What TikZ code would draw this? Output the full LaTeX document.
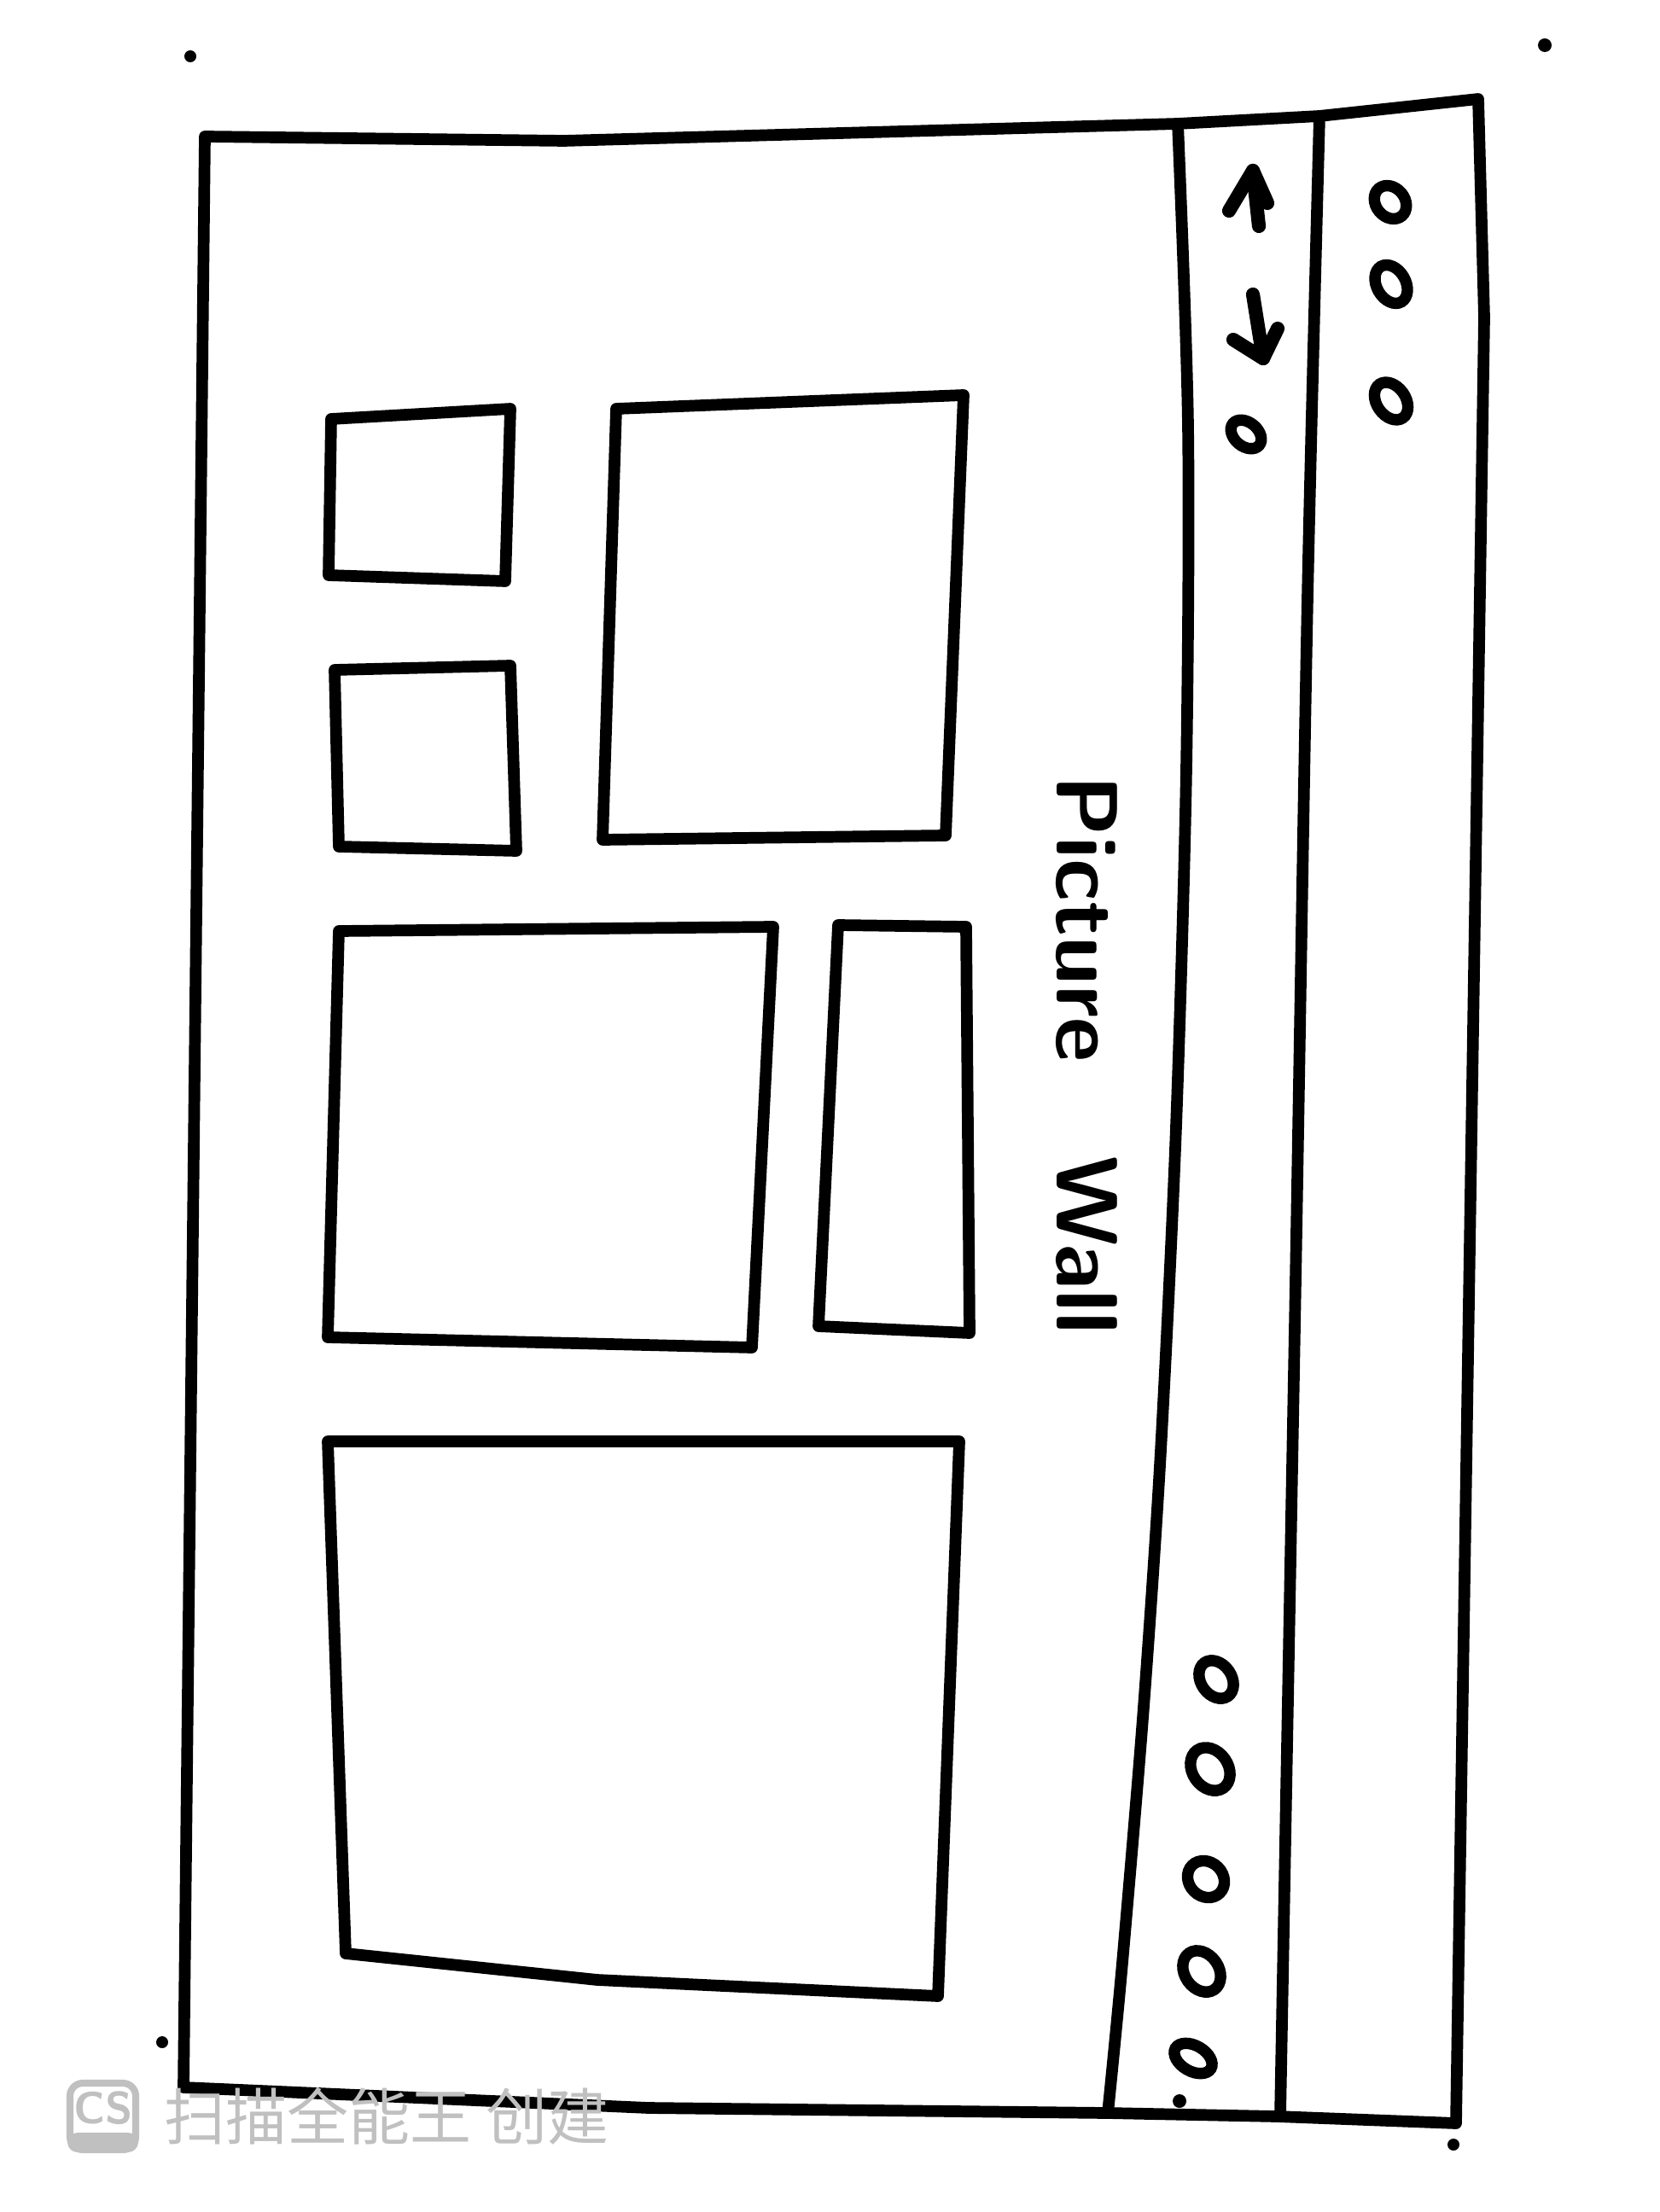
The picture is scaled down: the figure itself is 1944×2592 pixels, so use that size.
\documentclass[tikz,border=0pt]{standalone}
\usepackage{fontspec}
\usepackage{tikz}
\usetikzlibrary{calc}
\newfontfamily\cjkfont{Noto Sans CJK SC}
\definecolor{markgray}{RGB}{192,192,192}
\tikzset{
  pen/.style = {line width = 3.9pt, line join = round, line cap = round},
  arrowpen/.style = {line width = 4.6pt, line join = round, line cap = round},
  hole/.style = {line width = 3.8pt},
}

\begin{document}
\begin{tikzpicture}[x = 0.01cm, y = -0.01cm]
\useasboundingbox (0,0) rectangle (1944,2592);
% window frame
\draw[pen] (240,160) -- (661,165) -- (1380,145) -- (1546,136) -- (1732,116) -- (1739,372) -- (1706,2488) -- (1496,2480) -- (1298,2476) -- (760,2470) -- (215,2446) -- cycle;
% side bars
\draw[pen] plot[smooth] coordinates {(1380,145) (1392,500) (1390,900) (1378,1320) (1360,1700) (1340,2000) (1315,2300) (1298,2476)};
\draw[pen] plot[smooth] coordinates {(1546,136) (1532,700) (1518,1500) (1500,2480)};
% pictures
\draw[pen] (388,491) -- (598,479) -- (592,681) -- (385,674) -- cycle;
\draw[pen] (392,785) -- (598,780) -- (605,997) -- (397,992) -- cycle;
\draw[pen] (722,479) -- (1129,463) -- (1108,979) -- (706,984) -- cycle;
\draw[pen] (397,1091) -- (906,1086) -- (881,1579) -- (384,1567) -- cycle;
\draw[pen] (982,1084) -- (1132,1086) -- (1136,1562) -- (959,1554) -- cycle;
\draw[pen] (384,1689) -- (1124,1689) -- (1099,2339) -- (700,2320) -- (405,2289) -- cycle;
% title
\node[rotate = -90, font = \sffamily\bfseries\fontsize{29}{35}\selectfont] (title) at (1273,1236) {Picture\hspace{1.1cm}Wall};
% arrows
\coordinate (uptip) at (1468,200);
\coordinate (downtip) at (1480,420);
\draw[arrowpen] (1475,265) -- (uptip);
\draw[arrowpen] (1440,247) -- (uptip) -- (1485,238);
\draw[arrowpen] (1468,345) -- (downtip);
\draw[arrowpen] (1445,398) -- (downtip) -- (1497,385);
\draw[hole, rotate around = {-40:(1460,509)}] (1460,509) ellipse [x radius = 0.2cm, y radius = 0.14cm];
% top buttons
\draw[hole, rotate around = {-50:(1629,237)}] (1629,237) ellipse [x radius = 0.21cm, y radius = 0.17cm];
\draw[hole, rotate around = {-60:(1630,333)}] (1630,333) ellipse [x radius = 0.24cm, y radius = 0.17cm];
\draw[hole, rotate around = {-55:(1630,470)}] (1630,470) ellipse [x radius = 0.24cm, y radius = 0.17cm];
% bottom buttons
\draw[hole, rotate around = {-55:(1425,1968)}] (1425,1968) ellipse [x radius = 0.24cm, y radius = 0.18cm];
\draw[hole, rotate around = {-55:(1418,2073)}] (1418,2073) ellipse [x radius = 0.27cm, y radius = 0.21cm];
\draw[hole, rotate around = {-45:(1413,2202)}] (1413,2202) ellipse [x radius = 0.23cm, y radius = 0.2cm];
\draw[hole, rotate around = {-55:(1408,2310)}] (1408,2310) ellipse [x radius = 0.26cm, y radius = 0.2cm];
\draw[hole, rotate around = {-30:(1398,2412)}] (1398,2412) ellipse [x radius = 0.24cm, y radius = 0.15cm];
\fill (1382,2462) circle (0.08cm);
% corner marks
\fill (223,66) circle (0.07cm);
\fill (1810,53) circle (0.08cm);
\fill (190,2393) circle (0.07cm);
\fill (1703,2513) circle (0.07cm);
% scanner mark
\draw[markgray, line width = 2.3pt, rounded corners = 0.15cm] (82,2441) rectangle (159,2519);
\fill[markgray, rounded corners = 0.12cm] (79,2499) rectangle (162,2522);
\node[markgray, font = \sffamily\bfseries\fontsize{15}{17}\selectfont] (cslogo) at (121,2470) {CS};
\node[markgray, font = \cjkfont\fontsize{20.5}{21}\selectfont] (scanmark) at (453,2480) {扫描全能王 创建};
\end{tikzpicture}
\end{document}
